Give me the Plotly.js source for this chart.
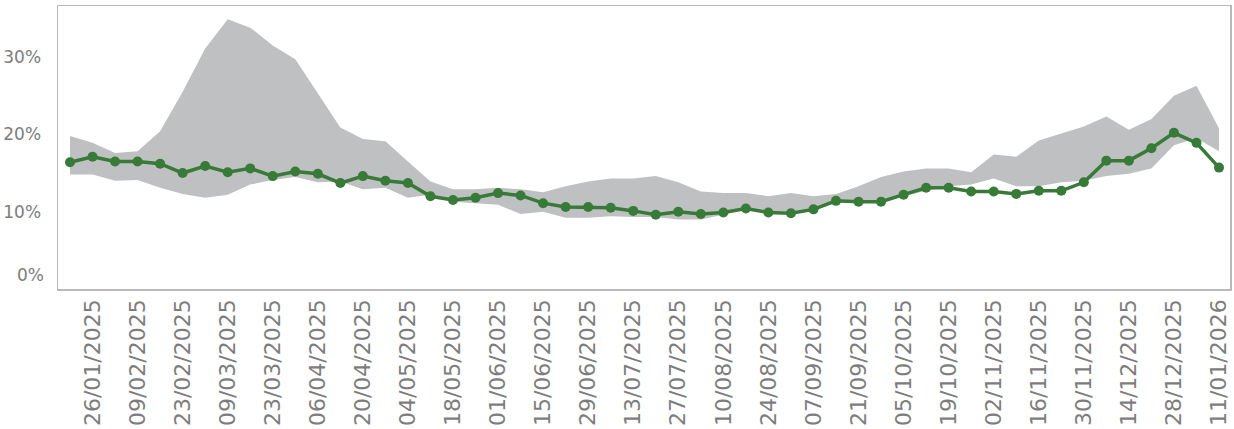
<!DOCTYPE html>
<html>
<head>
<meta charset="utf-8">
<script src="https://cdn.plot.ly/plotly-3.0.1.min.js"></script>
<style>html,body{margin:0;padding:0;background:#fff;}#chart{width:1234px;height:429px;}</style>
</head>
<body>
<div id="chart"></div>
<script>
const weeks = [
  '2025-01-19','2025-01-26','2025-02-02','2025-02-09','2025-02-16','2025-02-23','2025-03-02','2025-03-09',
  '2025-03-16','2025-03-23','2025-03-30','2025-04-06','2025-04-13','2025-04-20','2025-04-27','2025-05-04',
  '2025-05-11','2025-05-18','2025-05-25','2025-06-01','2025-06-08','2025-06-15','2025-06-22','2025-06-29',
  '2025-07-06','2025-07-13','2025-07-20','2025-07-27','2025-08-03','2025-08-10','2025-08-17','2025-08-24',
  '2025-08-31','2025-09-07','2025-09-14','2025-09-21','2025-09-28','2025-10-05','2025-10-12','2025-10-19',
  '2025-10-26','2025-11-02','2025-11-09','2025-11-16','2025-11-23','2025-11-30','2025-12-07','2025-12-14',
  '2025-12-21','2025-12-28','2026-01-04','2026-01-11'
];
const rate = [
  16.4,17.1,16.5,16.5,16.2,15.0,15.9,15.1,15.6,14.6,15.2,14.9,13.7,14.6,14.0,13.7,
  12.0,11.5,11.8,12.4,12.1,11.1,10.6,10.6,10.5,10.1,9.6,10.0,9.7,9.9,10.4,9.9,
  9.8,10.3,11.4,11.3,11.3,12.2,13.1,13.1,12.6,12.6,12.3,12.7,12.7,13.8,16.6,16.6,
  18.2,20.2,18.9,15.7
];
const bandHigh = [
  19.8,18.9,17.6,17.8,20.4,25.5,31.1,34.9,33.8,31.5,29.7,25.3,20.9,19.4,19.1,16.5,
  13.9,12.9,12.9,13.1,12.9,12.5,13.3,13.9,14.3,14.3,14.6,13.8,12.6,12.4,12.4,12.0,
  12.4,12.0,12.3,13.3,14.5,15.2,15.6,15.6,15.1,17.4,17.1,19.2,20.1,21.0,22.3,20.6,
  22.0,25.0,26.3,20.8
];
const bandLow = [
  14.8,14.8,14.0,14.1,13.1,12.3,11.8,12.2,13.5,14.1,14.5,13.8,13.9,12.9,13.1,11.8,
  12.2,11.3,11.1,10.9,9.7,10.0,9.2,9.2,9.4,9.3,9.3,9.0,9.0,9.6,10.3,10.1,
  10.0,10.4,11.1,11.3,11.6,12.0,12.7,13.3,13.5,14.3,13.3,13.3,13.8,14.0,14.6,14.9,
  15.6,18.6,19.5,17.8
];
const yTicks = [10, 20, 30];
const yTickLabels = ['10%', '20%', '30%'];
const zeroLabel = '0%';
const xTickWeeks = weeks.filter((d, i) => i % 2 === 1);

const textColor = '#7d7d7d';
const fontFam = 'DejaVu Sans, sans-serif';

const traces = [
  {x: weeks, y: bandLow, type: 'scatter', mode: 'lines', line: {width: 0, color: 'rgba(0,0,0,0)'},
   hoverinfo: 'skip', showlegend: false},
  {x: weeks, y: bandHigh, type: 'scatter', mode: 'lines', line: {width: 0, color: 'rgba(0,0,0,0)'},
   fill: 'tonexty', fillcolor: '#bfc0c2', hoverinfo: 'skip', showlegend: false},
  {x: weeks, y: rate, type: 'scatter', mode: 'lines+markers',
   line: {color: '#387a38', width: 3.5}, marker: {color: '#387a38', size: 10},
   showlegend: false}
];

const layout = {
  width: 1234, height: 429,
  margin: {l: 58, r: 4, t: 6, b: 140},
  paper_bgcolor: '#ffffff', plot_bgcolor: '#ffffff',
  showlegend: false,
  xaxis: {
    type: 'date',
    range: ['2025-01-15 06:30', '2026-01-14 10:00'],
    tickvals: xTickWeeks, tickformat: '%d/%m/%Y', tickangle: -90,
    tickfont: {family: fontFam, size: 22, color: textColor},
    showgrid: false, zeroline: false, ticks: '',
    showline: true, mirror: true, linecolor: '#b9b9b9', linewidth: 1.5,
    automargin: false
  },
  yaxis: {
    range: [0, 36.6],
    tickmode: 'array', tickvals: yTicks, ticktext: yTickLabels,
    tickfont: {family: fontFam, size: 17, color: textColor},
    showgrid: false, zeroline: false, ticks: '',
    ticklabelstandoff: 12,
    showline: true, mirror: true, linecolor: '#b9b9b9', linewidth: 1.5,
    automargin: false
  },
  annotations: [{
    text: zeroLabel, xref: 'paper', x: 0, xanchor: 'right', xshift: -12,
    yref: 'y', y: 0, yanchor: 'middle', yshift: 14,
    showarrow: false, font: {family: fontFam, size: 17, color: textColor}
  }]
};

Plotly.newPlot('chart', traces, layout, {displayModeBar: false, staticPlot: true});
</script>
</body>
</html>
